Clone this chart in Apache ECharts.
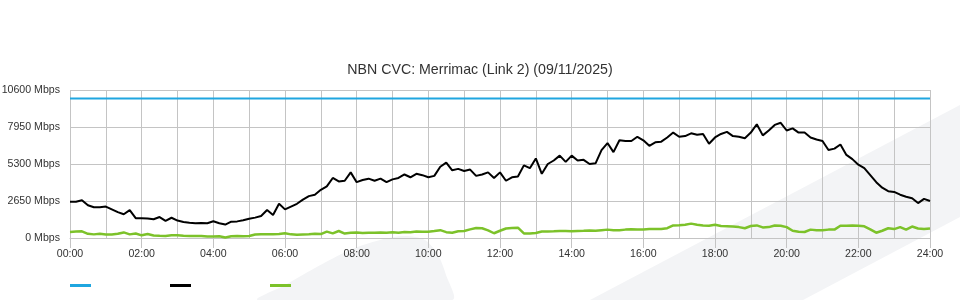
<!DOCTYPE html>
<html>
<head>
<meta charset="utf-8">
<script src="https://cdn.jsdelivr.net/npm/echarts@6/dist/echarts.min.js"></script>
<style>
html,body{margin:0;padding:0;background:#fff;}
#chart{width:960px;height:300px;}
</style>
</head>
<body>
<div id="chart"></div>
<script>
// ---- data (10-minute samples, 00:00 .. 24:00) ----
const titleText = 'NBN CVC: Merrimac (Link 2) (09/11/2025)';
const yTicks = [0, 2650, 5300, 7950, 10600];
const capacityMbps = 10000;

const downloadMbps = [
  2600, 2600, 2700, 2350, 2200, 2200,
  2250, 2050, 1850, 1700, 2000, 1420,
  1420, 1400, 1340, 1500, 1230, 1450,
  1250, 1150, 1100, 1060, 1080, 1060,
  1200, 1060, 960, 1170, 1190, 1270,
  1380, 1460, 1580, 2000, 1650, 2450,
  2050, 2250, 2450, 2750, 3000, 3100,
  3450, 3700, 4300, 4050, 4100, 4700,
  4000, 4150, 4250, 4100, 4250, 4000,
  4200, 4300, 4550, 4350, 4600, 4500,
  4350, 4450, 5100, 5400, 4850, 4950,
  4800, 4900, 4450, 4550, 4700, 4300,
  4700, 4100, 4350, 4400, 5200, 5000,
  5700, 4600, 5300, 5550, 5900, 5450,
  5900, 5550, 5600, 5300, 5350, 6300,
  6800, 6150, 7000, 6950, 6950, 7250,
  7000, 6600, 6850, 6900, 7200, 7550,
  7250, 7300, 7500, 7400, 7450, 6750,
  7200, 7450, 7600, 7300, 7250, 7150,
  7550, 8150, 7350, 7700, 8100, 8250,
  7700, 7850, 7550, 7550, 7200, 7050,
  6950, 6300, 6400, 6700, 5950, 5650,
  5250, 5000, 4500, 4000, 3600, 3350,
  3300, 3100, 2950, 2850, 2500, 2800,
  2650
];

const uploadMbps = [
  430, 460, 480, 300, 260, 300,
  250, 250, 300, 400, 260, 320,
  190, 280, 180, 160, 150, 190,
  190, 160, 150, 150, 140, 110,
  100, 120, 30, 120, 140, 130,
  140, 250, 260, 270, 260, 280,
  340, 260, 230, 250, 270, 300,
  280, 460, 330, 500, 320, 380,
  400, 360, 380, 370, 400, 380,
  420, 380, 430, 420, 460, 440,
  450, 500, 560, 420, 380, 480,
  500, 620, 720, 700, 550, 340,
  520, 680, 720, 740, 330, 330,
  360, 460, 470, 480, 500, 500,
  490, 510, 520, 540, 520, 560,
  600, 550, 560, 600, 620, 600,
  610, 650, 640, 650, 700, 900,
  910, 950, 1030, 950, 900, 880,
  950, 860, 850, 820, 780, 700,
  860, 900, 760, 780, 900, 880,
  780, 520, 450, 430, 600, 560,
  560, 600, 600, 880, 880, 900,
  880, 840, 620, 380, 520, 700,
  640, 780, 600, 820, 680, 640,
  680
];

// time categories every 10 minutes
const timeLabels = [];
for (let h = 0; h <= 24; h++) {
  for (let m = 0; m < 60; m += 10) {
    if (h === 24 && m > 0) break;
    timeLabels.push(String(h).padStart(2, '0') + ':' + String(m).padStart(2, '0'));
  }
}

const FONT = "'Liberation Sans', Arial, Helvetica, sans-serif";
const GRID_COLOR = '#c4c4c4';

const chart = echarts.init(document.getElementById('chart'), null, {renderer: 'canvas'});
chart.setOption({
  animation: false,
  backgroundColor: '#ffffff',
  textStyle: {fontFamily: FONT},
  graphic: [
    {
      type: 'polygon', z: -100, silent: true,
      shape: {points: [[590, 300], [960, 105], [960, 217], [803, 300]]},
      style: {fill: '#f3f4f6'}
    },
    {
      type: 'polygon', z: -100, silent: true,
      shape: {smooth: 0.3, points: [[258, 300], [285, 285], [315, 268], [350, 250], [380, 240], [405, 236], [425, 240], [438, 255], [446, 275], [452, 300]]},
      style: {fill: '#f3f4f6'}
    }
  ],
  title: {
    text: titleText,
    left: 'center',
    top: 58,
    textStyle: {fontFamily: FONT, fontSize: 14.2, fontWeight: 'normal', color: '#333333'}
  },
  legend: {
    left: 65,
    top: 279,
    itemWidth: 21,
    itemHeight: 3,
    itemGap: 79,
    icon: 'rect',
    formatter: function () { return ''; },
    selectedMode: false,
    data: ['Capacity', 'Download', 'Upload']
  },
  grid: {left: 70, right: 30, top: 90, bottom: 62, containLabel: false, outerBoundsMode: 'none'},
  xAxis: {
    type: 'category',
    data: timeLabels,
    boundaryGap: false,
    axisLine: {show: true, lineStyle: {color: GRID_COLOR, width: 1}},
    axisTick: {show: true, interval: 11, length: 10, lineStyle: {color: GRID_COLOR}},
    axisLabel: {
      interval: 11,
      color: '#333333',
      fontSize: 10.6,
      fontFamily: FONT,
      margin: 11,
      showMaxLabel: true
    },
    splitLine: {show: true, interval: 5, lineStyle: {color: GRID_COLOR, width: 1}}
  },
  yAxis: {
    type: 'value',
    min: yTicks[0],
    max: yTicks[yTicks.length - 1],
    interval: yTicks[1] - yTicks[0],
    axisLine: {show: false},
    axisTick: {show: false},
    axisLabel: {
      color: '#333333',
      fontSize: 10.6,
      fontFamily: FONT,
      margin: 10,
      padding: [0, 0, 4, 0],
      formatter: function (v) { return v + ' Mbps'; }
    },
    splitLine: {show: true, lineStyle: {color: GRID_COLOR, width: 1}}
  },
  series: [
    {
      name: 'Capacity', type: 'line',
      data: timeLabels.map(function () { return capacityMbps; }),
      showSymbol: false, symbol: 'none',
      lineStyle: {color: '#1fa6e0', width: 2},
      itemStyle: {color: '#1fa6e0'},
      z: 3
    },
    {
      name: 'Download', type: 'line',
      data: downloadMbps,
      showSymbol: false, symbol: 'none',
      lineStyle: {color: '#000000', width: 2},
      itemStyle: {color: '#000000'},
      z: 4
    },
    {
      name: 'Upload', type: 'line',
      data: uploadMbps,
      showSymbol: false, symbol: 'none',
      lineStyle: {color: '#7cc22a', width: 2.5},
      itemStyle: {color: '#7cc22a'},
      z: 5
    }
  ]
});
</script>
</body>
</html>
